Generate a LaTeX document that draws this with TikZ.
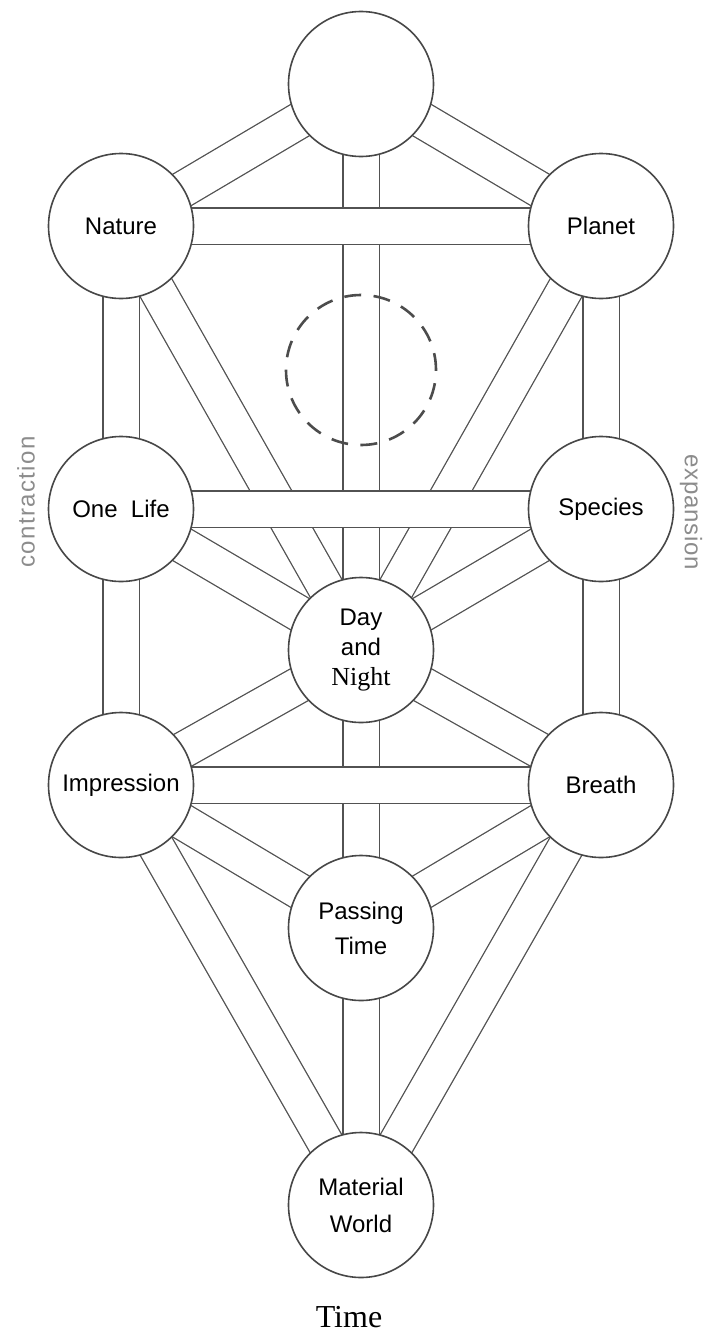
\documentclass[tikz,border=0pt]{standalone}
\usepackage{fontspec}
\setmainfont{Liberation Sans}
\newfontfamily\timesfont{Liberation Serif}
\usepackage{tikz}
\usetikzlibrary{backgrounds}
\tikzstyle{sphere} = [draw=black!72, fill=white, line width=1.6pt,
    circle, minimum size=145pt, inner sep=0pt, align=center,
    font=\fontsize{24}{30}\selectfont]
\tikzstyle{channel} = [draw=black!68, line width=1.3pt,
    double=white, double distance=35pt]
\tikzstyle{hiddenring} = [draw=black!70, line width=2.6pt, circle,
    minimum size=150pt, inner sep=0pt, dash pattern=on 17pt off 12.4pt]
\tikzstyle{sidelabel} = [text=black!45, font=\fontsize{24}{24}\selectfont]

\begin{document}
\begin{tikzpicture}[x=1pt, y=-1pt]
\useasboundingbox (0,0) rectangle (704,1338);
% the spheres
\node [sphere] (top) at (361,84) {};
\node [sphere] (nature) at (121,226) {Nature};
\node [sphere] (planet) at (601,226) {Planet};
\node [hiddenring] (hidden) at (361,370) {};
\node [sphere] (onelife) at (121,509) {One\ \ Life};
\node [sphere] (species) at (601,509) {Species};
\node [sphere] (daynight) at (361,650) {Day\\and\\{\timesfont\fontsize{26}{30}\selectfont Night}};
\node [sphere] (impression) at (121,785) {Impression};
\node [sphere] (breath) at (601,785) {Breath};
\node [sphere, font=\fontsize{24}{35}\selectfont] (passing) at (361,928) {Passing\\Time};
\node [sphere, font=\fontsize{24}{37}\selectfont] (material) at (361,1205) {Material\\World};
\node [sidelabel, rotate=90] (contract) at (26,502) {\addfontfeatures{LetterSpace=6}contraction};
\node [sidelabel, rotate=-90] (expand) at (691,512) {\addfontfeatures{LetterSpace=3}expansion};
\node [font=\timesfont\fontsize{32}{32}\selectfont] (timelabel) at (349,1317) {Time};
% the channels
\begin{pgfonlayer}{background}
    \draw [channel] (top.center) -- (nature.center);
    \draw [channel] (top.center) -- (planet.center);
    \draw [channel] (top.center) -- (daynight.center);
    \draw [channel] (nature.center) -- (onelife.center);
    \draw [channel] (planet.center) -- (species.center);
    \draw [channel] (nature.center) -- (daynight.center);
    \draw [channel] (planet.center) -- (daynight.center);
    \draw [channel] (onelife.center) -- (daynight.center);
    \draw [channel] (species.center) -- (daynight.center);
    \draw [channel] (onelife.center) -- (impression.center);
    \draw [channel] (species.center) -- (breath.center);
    \draw [channel] (impression.center) -- (daynight.center);
    \draw [channel] (breath.center) -- (daynight.center);
    \draw [channel] (daynight.center) -- (passing.center);
    \draw [channel] (impression.center) -- (passing.center);
    \draw [channel] (breath.center) -- (passing.center);
    \draw [channel] (impression.center) -- (material.center);
    \draw [channel] (breath.center) -- (material.center);
    \draw [channel] (passing.center) -- (material.center);
    % bars across
    \draw [channel] (nature.center) -- (planet.center);
    \draw [channel] (onelife.center) -- (species.center);
    \draw [channel] (impression.center) -- (breath.center);
\end{pgfonlayer}
\end{tikzpicture}
\end{document}
